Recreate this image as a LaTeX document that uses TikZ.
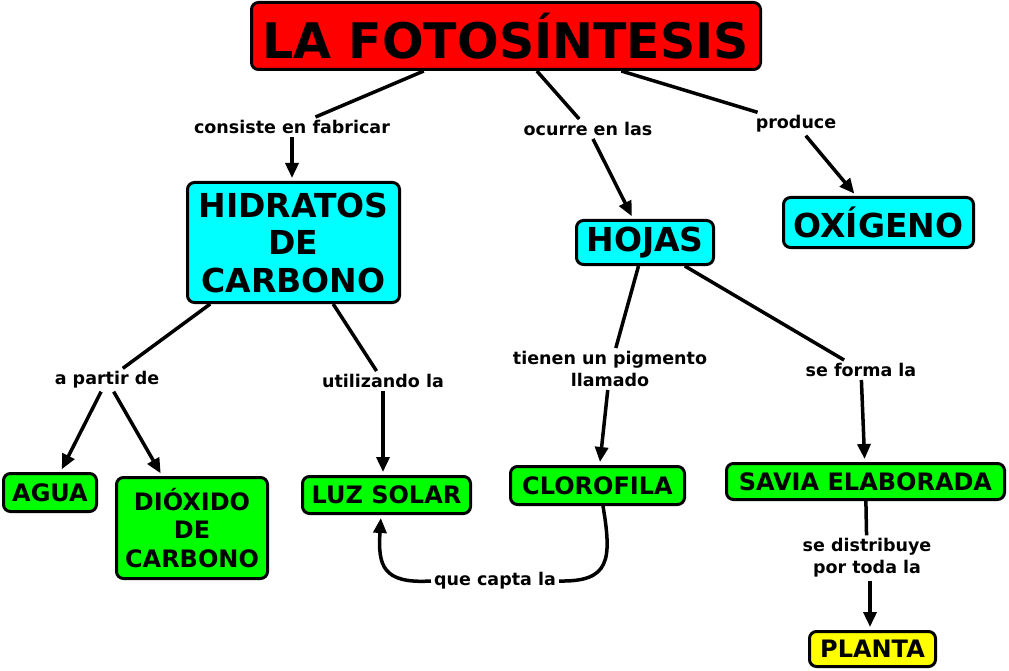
\documentclass[tikz,border=0pt]{standalone}
\usepackage{fontspec}
\setmainfont{DejaVu Sans}
\usetikzlibrary{arrows.meta}
\definecolor{cred}{HTML}{FF0000}
\definecolor{ccyan}{HTML}{00FFFF}
\definecolor{cgreen}{HTML}{00FF00}
\definecolor{cyellow}{HTML}{FFFF00}
\tikzset{
  basebox/.style={draw=black, line width=3pt, rounded corners=7pt, inner sep=0pt, align=center},
  tbox/.style={basebox, fill=cred, font=\fontsize{49}{55}\selectfont\bfseries},
  cbox/.style={basebox, fill=ccyan, font=\fontsize{33}{37.5}\selectfont\bfseries},
  gbox/.style={basebox, fill=cgreen, font=\fontsize{24}{28.5}\selectfont\bfseries},
  ybox/.style={basebox, fill=cyellow, font=\fontsize{24}{28.5}\selectfont\bfseries},
  lbl/.style={font=\fontsize{17.5}{22}\selectfont\bfseries, inner sep=3pt, align=center},
  ln/.style={line width=3.5pt},
  arr/.style={line width=3.5pt, -{Triangle[length=15pt,width=13pt]}, shorten >=3pt},
}
\begin{document}
\begin{tikzpicture}[x=1pt,y=-1pt]
\useasboundingbox (0,0) rectangle (1009,671);
% boxes
\node[tbox, minimum width=509pt, minimum height=67pt] (title) at (506,36) {LA FOTOSÍNTESIS};
\node[cbox, minimum width=212pt, minimum height=120pt] (hid) at (293.5,242.5) {HIDRATOS\\DE\\CARBONO};
\node[cbox, minimum width=137pt, minimum height=44pt] (hojas) at (645,242.5) {HOJAS};
\node[cbox, minimum width=190pt, minimum height=50pt] (oxi) at (878.5,222.5) {OXÍGENO};
\node[gbox, minimum width=93pt, minimum height=38pt] (agua) at (50,492.5) {AGUA};
\node[gbox, minimum width=151pt, minimum height=101pt] (diox) at (192,528) {DIÓXIDO\\DE\\CARBONO};
\node[gbox, minimum width=168pt, minimum height=37pt] (luz) at (386.5,495) {LUZ SOLAR};
\node[gbox, minimum width=174pt, minimum height=38pt] (cloro) at (597.5,485.5) {CLOROFILA};
\node[gbox, minimum width=278pt, minimum height=36pt] (savia) at (865.5,481.5) {SAVIA ELABORADA};
\node[ybox, minimum width=126pt, minimum height=35pt] (planta) at (872.5,649) {PLANTA};
% labels
\node[lbl] (l1) at (292,127) {consiste en fabricar};
\node[lbl] (l2) at (588,129) {ocurre en las};
\node[lbl] (l3) at (796,124) {produce};
\node[lbl] (l4) at (107,380) {a partir de};
\node[lbl] (l5) at (383,381) {utilizando la};
\node[lbl] (l6) at (610,369) {tienen un pigmento\\llamado};
\node[lbl] (l7) at (861,370) {se forma la};
\node[lbl] (l8) at (495,581) {que capta la};
\node[lbl] (l9) at (867,558) {se distribuye\\por toda la};
% connectors
\draw[ln] (title) -- (l1);
\draw[arr] (l1) -- (l1 |- hid.north);
\draw[ln] (title) -- (l2);
\draw[arr] (l2) -- (hojas);
\draw[ln] (title) -- (l3);
\draw[arr] (l3) -- (oxi);
\draw[ln] (hid) -- (l4);
\draw[arr] (l4) -- (agua);
\draw[arr] (l4) -- (diox);
\draw[ln] (hid) -- (l5);
\draw[arr] (l5) -- (l5 |- luz.north);
\draw[ln] (hojas) -- (l6);
\draw[arr] (l6) -- (cloro);
\draw[ln] (hojas) -- (l7);
\draw[arr] (l7) -- (savia);
\draw[ln] (savia) -- (l9);
\draw[arr] ([xshift=3pt]l9.south) -- ([xshift=3pt]l9.south |- planta.north);
\draw[ln] ([xshift=5.5pt]cloro.south) .. controls (612,560) and (610,582) .. (l8.east);
\draw[arr] (l8.west) .. controls (382,584) and (378,565) .. ([xshift=-5.5pt]luz.south);
\end{tikzpicture}
\end{document}
